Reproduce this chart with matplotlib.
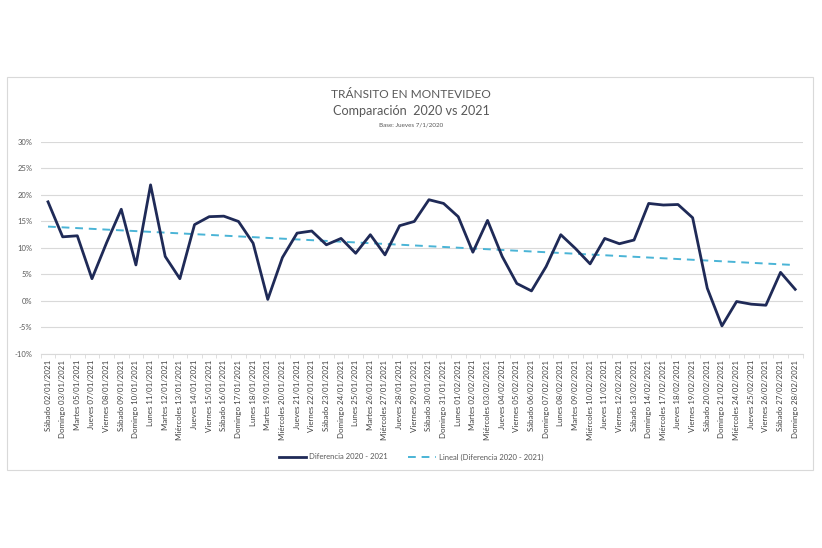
import numpy as np
import matplotlib.pyplot as plt
from matplotlib.patches import Rectangle

plt.rcParams['font.family'] = ['Lato', 'DejaVu Sans']

fechas = ['Sábado 02/01/2021', 'Domingo 03/01/2021', 'Martes 05/01/2021', 'Jueves 07/01/2021',
          'Viernes 08/01/2021', 'Sábado 09/01/2021', 'Domingo 10/01/2021', 'Lunes 11/01/2021',
          'Martes 12/01/2021', 'Miércoles 13/01/2021', 'Jueves 14/01/2021', 'Viernes 15/01/2021',
          'Sábado 16/01/2021', 'Domingo 17/01/2021', 'Lunes 18/01/2021', 'Martes 19/01/2021',
          'Miércoles 20/01/2021', 'Jueves 21/01/2021', 'Viernes 22/01/2021', 'Sábado 23/01/2021',
          'Domingo 24/01/2021', 'Lunes 25/01/2021', 'Martes 26/01/2021', 'Miércoles 27/01/2021',
          'Jueves 28/01/2021', 'Viernes 29/01/2021', 'Sábado 30/01/2021', 'Domingo 31/01/2021',
          'Lunes 01/02/2021', 'Martes 02/02/2021', 'Miércoles 03/02/2021', 'Jueves 04/02/2021',
          'Viernes 05/02/2021', 'Sábado 06/02/2021', 'Domingo 07/02/2021', 'Lunes 08/02/2021',
          'Martes 09/02/2021', 'Miércoles 10/02/2021', 'Jueves 11/02/2021', 'Viernes 12/02/2021',
          'Sábado 13/02/2021', 'Domingo 14/02/2021', 'Miércoles 17/02/2021', 'Jueves 18/02/2021',
          'Viernes 19/02/2021', 'Sábado 20/02/2021', 'Domingo 21/02/2021', 'Miércoles 24/02/2021',
          'Jueves 25/02/2021', 'Viernes 26/02/2021', 'Sábado 27/02/2021', 'Domingo 28/02/2021']

# diferencia 2020 - 2021 (%)
diferencia = [18.7, 12.1, 12.3, 4.2, 11.0, 17.3, 6.8, 21.9, 8.4, 4.2,
              14.4, 15.9, 16.0, 15.0, 10.9, 0.3, 8.2, 12.8, 13.2, 10.6,
              11.8, 9.0, 12.5, 8.7, 14.2, 15.0, 19.1, 18.4, 15.9, 9.2,
              15.2, 8.4, 3.3, 1.9, 6.5, 12.5, 9.9, 7.0, 11.8, 10.8,
              11.5, 18.4, 18.1, 18.2, 15.7, 2.4, -4.7, -0.1, -0.6, -0.8,
              5.4, 2.2]

x = np.arange(len(fechas))
y = np.array(diferencia) / 100
coef = np.polyfit(x, y, 1)
tendencia = np.polyval(coef, x)

fig = plt.figure(figsize=(8.22, 5.48), dpi=100)
fig.patches.append(Rectangle((7 / 822, 1 - 470 / 548), 806 / 822, 393 / 548,
                             transform=fig.transFigure, fill=False,
                             edgecolor='#d9d9d9', linewidth=0.8))

ax = fig.add_axes([0.0495, 0.354, 0.9268, 0.387])
ax.plot(x, y, color='#1f2a57', linewidth=2.0, label='Diferencia 2020 - 2021', zorder=3)
ax.plot(x, tendencia, color='#4ab4d6', linewidth=1.4, linestyle=(0, (4, 3)),
        label='Lineal (Diferencia 2020 - 2021)', zorder=2)

ax.set_xlim(-0.5, len(fechas) - 0.5)
ax.set_ylim(-0.10, 0.30)
ax.set_yticks(np.arange(-0.10, 0.301, 0.05))
ax.set_yticklabels([f'{int(round(v * 100))}%' for v in np.arange(-0.10, 0.301, 0.05)],
                   fontsize=5.5, color='#595959')
ax.set_xticks(x)
ax.set_xticklabels(fechas, rotation=90, fontsize=5.7, color='#404040')
ax.set_xticks(np.arange(-0.5, len(fechas), 1), minor=True)
ax.tick_params(axis='x', which='major', length=0, pad=4)
ax.tick_params(axis='x', which='minor', length=3, color='#d9d9d9')
ax.tick_params(axis='y', length=0, pad=6)
ax.grid(axis='y', color='#d9d9d9', linewidth=0.8)
ax.set_axisbelow(True)
for s in ['top', 'right', 'left']:
    ax.spines[s].set_visible(False)
ax.spines['bottom'].set_color('#d9d9d9')

fig.text(0.5, 1 - 94 / 548, 'TRÁNSITO EN MONTEVIDEO', ha='center', va='center',
         fontsize=8.6, color='#595959')
fig.text(0.5, 1 - 111 / 548, 'Comparación  2020 vs 2021', ha='center', va='center',
         fontsize=9.1, color='#595959')
fig.text(0.5, 1 - 125 / 548, 'Base: Jueves 7/1/2020', ha='center', va='center',
         fontsize=4.5, color='#595959')

fig.legend(loc='center', bbox_to_anchor=(0.5, 1 - 457 / 548), ncol=2, frameon=False,
           fontsize=5.5, labelcolor='#595959', handlelength=3.6, handletextpad=0.4,
           columnspacing=2.6)

fig.savefig('out.png', dpi=100, facecolor='white')
